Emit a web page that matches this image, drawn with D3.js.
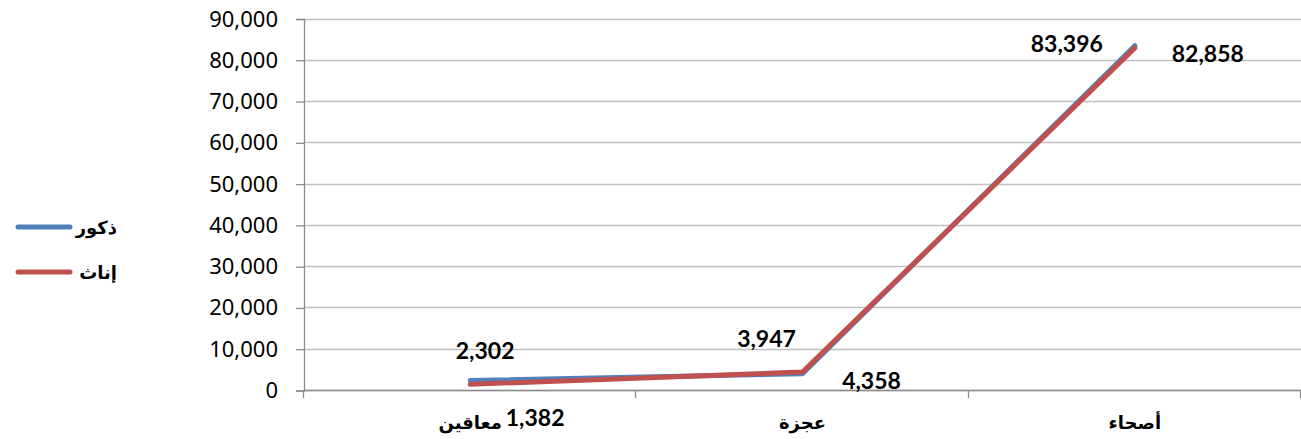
<!DOCTYPE html>
<html>
<head>
<meta charset="utf-8">
<script src="https://cdn.jsdelivr.net/npm/d3@7"></script>
<style>
  body { margin: 0; background: #fff; }
  svg { display: block; }
</style>
</head>
<body>
<div id="chart"></div>
<script>
let categories = ["معاقين", "عجزة", "أصحاء"];
let seriesNames = ["ذكور", "إناث"];
let maleValues = [2302, 3947, 83396];
let femaleValues = [1382, 4358, 82858];
let yTicks = [0, 10000, 20000, 30000, 40000, 50000, 60000, 70000, 80000, 90000];

// label placement (offset from point, px), set by hand like the original
let labelOffsets = [
  [[15, -30], [-36, -36], [-68, -3]],
  [[65, 33], [69, 8], [73, 5]]
];

let colors = ["#4f81bd", "#c0504d"];

function renderChart() {
  let width = 1301, height = 439;
  let left = 304, right = 1301, top = 18.5, bottom = 390;

  let svg = d3.select("#chart").append("svg")
    .attr("width", width)
    .attr("height", height);

  let x = d3.scaleBand().domain(categories).range([left, right]);
  let y = d3.scaleLinear().domain([0, 90000]).range([bottom, top]);

  // gridlines
  svg.append("g")
    .selectAll("line")
    .data(yTicks)
    .enter().append("line")
    .attr("x1", left).attr("x2", right)
    .attr("y1", d => Math.round(y(d)) + 0.5)
    .attr("y2", d => Math.round(y(d)) + 0.5)
    .attr("stroke", "#c0c0c0")
    .attr("stroke-width", 1.3);

  let yAxis = svg.append("g")
    .attr("transform", `translate(${left},0.5)`)
    .call(d3.axisLeft(y).tickValues(yTicks).tickSize(8).tickPadding(18)
      .tickFormat(d3.format(",")));
  yAxis.select(".domain").attr("stroke", "#8c8c8c").attr("stroke-width", 1.3);
  yAxis.selectAll(".tick line").attr("stroke", "#8c8c8c").attr("stroke-width", 1.3);
  yAxis.selectAll("text")
    .style("font-family", "'Noto Sans', sans-serif")
    .style("font-size", "22px")
    .attr("fill", "#000");

  // x axis
  let xg = svg.append("g");
  xg.append("line")
    .attr("x1", left).attr("x2", right)
    .attr("y1", bottom + 0.5).attr("y2", bottom + 0.5)
    .attr("stroke", "#8c8c8c").attr("stroke-width", 1.5);
  xg.selectAll(".xt")
    .data(categories.concat(["end"]))
    .enter().append("line")
    .attr("class", "xt")
    .attr("x1", (d, i) => Math.round(left + i * x.bandwidth()) - 0.5)
    .attr("x2", (d, i) => Math.round(left + i * x.bandwidth()) - 0.5)
    .attr("y1", bottom).attr("y2", bottom + 8)
    .attr("stroke", "#8c8c8c").attr("stroke-width", 1.3);
  xg.selectAll("text")
    .data(categories)
    .enter().append("text")
    .attr("x", d => x(d) + x.bandwidth() / 2)
    .attr("y", 429)
    .attr("text-anchor", "middle")
    .style("font-family", "'DejaVu Sans', sans-serif")
    .style("font-weight", "bold")
    .style("font-size", "18px")
    .text(d => d);

  let cx = d => x(d) + x.bandwidth() / 2;
  let line = d3.line()
    .x((d, i) => cx(categories[i]))
    .y(d => y(d));

  let series = [maleValues, femaleValues];
  series.forEach(function(vals, s) {
    svg.append("path")
      .datum(vals)
      .attr("d", line)
      .attr("fill", "none")
      .attr("stroke", colors[s])
      .attr("stroke-width", 5)
      .attr("stroke-linecap", "round")
      .attr("stroke-linejoin", "round");
  });

  series.forEach(function(vals, s) {
    svg.append("g").selectAll("text")
      .data(vals)
      .enter().append("text")
      .attr("x", (d, i) => cx(categories[i]) + labelOffsets[s][i][0])
      .attr("y", (d, i) => y(d) + labelOffsets[s][i][1])
      .attr("text-anchor", "middle")
      .attr("dominant-baseline", "central")
      .style("font-family", "Lato, 'Liberation Sans', sans-serif")
      .style("font-weight", "bold")
      .style("font-size", "23px")
      .text(d => d3.format(",")(d));
  });

  // legend
  let legend = svg.append("g");
  seriesNames.forEach(function(name, i) {
    let ly = 227 + i * 45;
    legend.append("line")
      .attr("x1", 18).attr("x2", 70)
      .attr("y1", ly).attr("y2", ly)
      .attr("stroke", colors[i])
      .attr("stroke-width", 5)
      .attr("stroke-linecap", "round");
    legend.append("text")
      .attr("x", 117)
      .attr("y", ly)
      .attr("text-anchor", "end")
      .attr("dominant-baseline", "central")
      .style("font-family", "'DejaVu Sans', sans-serif")
      .style("font-weight", "bold")
      .style("font-size", "18px")
      .text(name);
  });
}

renderChart();
</script>
</body>
</html>
